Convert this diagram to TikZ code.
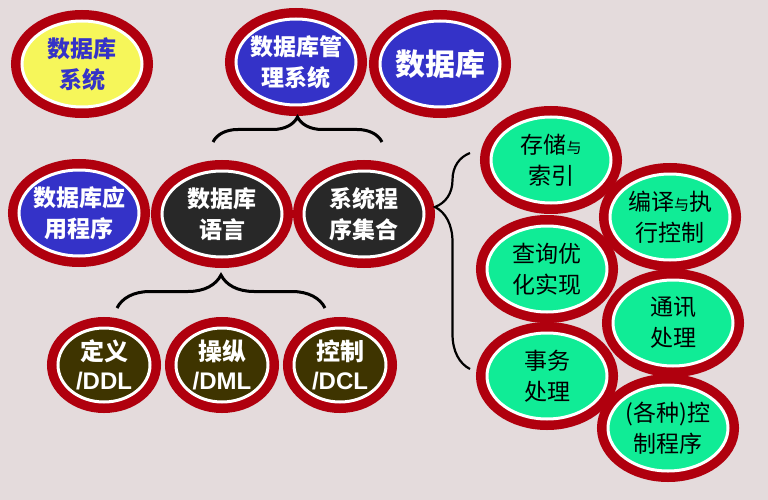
\documentclass[tikz,border=0pt]{standalone}
\usepackage{fontspec}
\setmainfont{Liberation Sans}
\newfontfamily\cjk{Noto Sans CJK SC}
\usetikzlibrary{shapes.geometric,decorations.pathreplacing,calc}

\definecolor{ringred}{RGB}{176,0,14}
\definecolor{bgpink}{RGB}{228,219,220}
\definecolor{dbblue}{RGB}{52,50,200}
\definecolor{dbyellow}{RGB}{246,246,90}
\definecolor{dbdark}{RGB}{40,40,40}
\definecolor{dbgreen}{RGB}{16,236,150}
\definecolor{dbolive}{RGB}{62,52,0}

\begin{document}
\begin{tikzpicture}[x=1pt,y=-1pt,
  every node/.style={align=center,font=\fontsize{23}{31}\selectfont\cjk\bfseries},
  ring/.style={shape=ellipse,inner sep=-6pt,minimum width=120pt,minimum height=86pt,
    draw=white,line width=3pt,preaction={draw=ringred,line width=22pt}},
  small ring/.style={ring,minimum width=92pt,minimum height=74pt,
    fill=dbolive,text=white,font=\fontsize{24}{29}\selectfont\cjk\bfseries},
  green ring/.style={ring,fill=dbgreen,text=black,font=\fontsize{23}{31}\selectfont\cjk},
  bracebar/.style={decorate,decoration={brace,amplitude=#1},line width=3pt}]
\useasboundingbox (0,0) rectangle (768,500);
\fill[bgpink] (0,0) rectangle (768,500);

\node (sys) [ring,fill=dbyellow,text=dbblue] at (82,64) {数据库\\系统};
\node (dbms) [ring,fill=dbblue,text=white] at (296,62) {数据库管\\理系统};
\node (db) [ring,fill=dbblue,text=white,font=\fontsize{30}{34}\selectfont\cjk\bfseries]
  at (440,64) {数据库};
\node (app) [ring,fill=dbblue,text=white] at (79,213) {数据库应\\用程序};
\node (lang) [ring,fill=dbdark,text=white] at (222,214) {数据库\\语言};
\node (sysprog) [ring,fill=dbdark,text=white] at (364,214) {系统程\\序集合};

\node (ddl) [small ring] at (104,365) {定义\\{\rmfamily /DDL}};
\node (dml) [small ring] at (222,365) {操纵\\{\rmfamily /DML}};
\node (dcl) [small ring] at (340,365) {控制\\{\rmfamily /DCL}};

\node (s1) [green ring] at (551,160) {存储{\fontsize{15}{31}\selectfont 与}\\索引};
\node (s2) [green ring] at (670,217) {编译{\fontsize{15}{31}\selectfont 与}执\\行控制};
\node (s3) [green ring] at (547,269) {查询优\\化实现};
\node (s4) [green ring] at (673,323) {通讯\\处理};
\node (s5) [green ring] at (547,376) {事务\\处理};
\node (s6) [green ring] at (668,428) {(各种)控\\制程序};

\coordinate (t1) at (213,142);
\coordinate (t2) at (382,142);
\coordinate (b1) at (117,308);
\coordinate (b2) at (325,308);
\coordinate (r1) at (470,369);
\coordinate (r2) at (470,153);

\draw [bracebar=25pt] (t1) -- (t2);
\draw [bracebar=33pt] (b1) -- (b2);
\draw [bracebar=35pt,decoration={aspect=0.75},line width=2.2pt] (r1) -- (r2);
\end{tikzpicture}
\end{document}
